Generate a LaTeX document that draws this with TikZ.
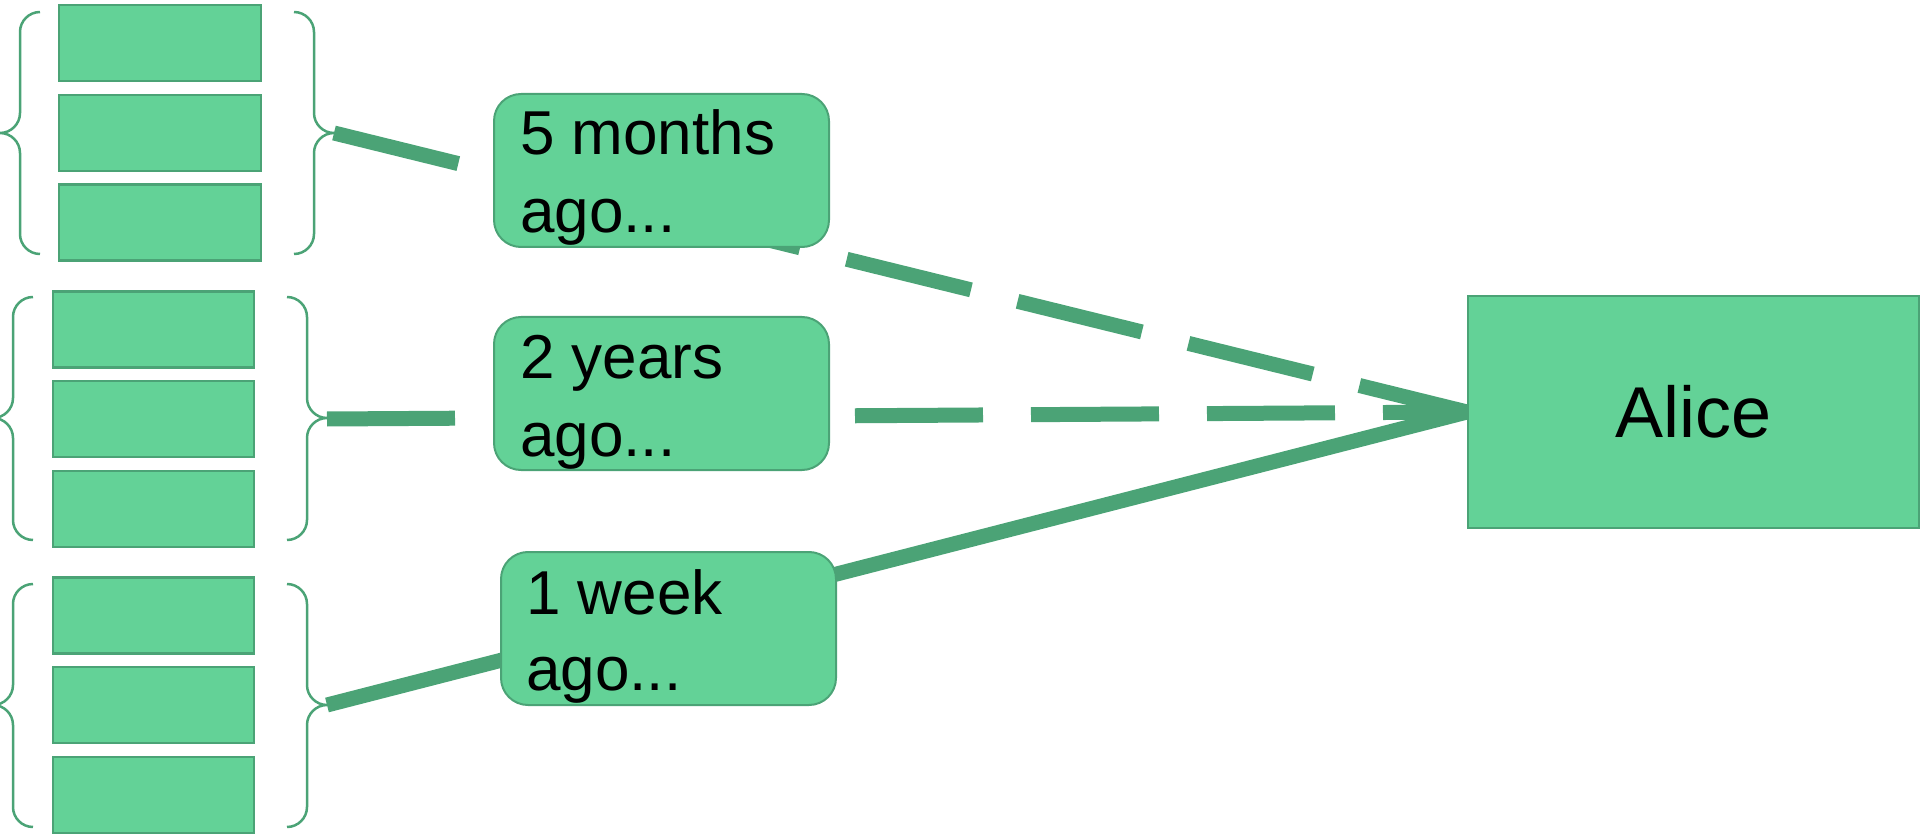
\documentclass[tikz,border=0pt]{standalone}
\usepackage{fontspec}
\setmainfont{Liberation Sans}
\usetikzlibrary{calc}
\definecolor{boxfill}{RGB}{99,210,151}
\definecolor{boxline}{RGB}{75,163,118}
\tikzset{
  smallbox/.style={draw=boxline, fill=boxfill, line width=2.5pt, minimum width=202pt, minimum height=76pt, inner sep=0pt},
  tbox/.style={draw=boxline, fill=boxfill, line width=2pt, rounded corners=27pt, minimum width=335pt, minimum height=153pt, inner sep=0pt},
  abox/.style={draw=boxline, fill=boxfill, line width=2pt, minimum width=451pt, minimum height=232pt, inner sep=0pt, font=\fontsize{72}{72}\selectfont},
  txt/.style={inner sep=0pt, anchor=base west, font=\fontsize{62}{62}\selectfont},
  bracestyle/.style={draw=boxline, line width=2.5pt},
  conn/.style={draw=boxline, line width=15pt, line cap=butt},
  dconn/.style={conn, dash pattern=on 128pt off 48pt}
}
\newcommand\mybraces[5]{% L R top mid bot
  \draw[bracestyle] (#1,#3) .. controls ({#1-11},#3) and ({#1-20},{#3+9}) .. ({#1-20},{#3+20})
    -- ({#1-20},{#4-20}) .. controls ({#1-20},{#4-9}) and ({#1-29},#4) .. ({#1-40},#4)
    .. controls ({#1-29},#4) and ({#1-20},{#4+9}) .. ({#1-20},{#4+20})
    -- ({#1-20},{#5-20}) .. controls ({#1-20},{#5-9}) and ({#1-11},#5) .. (#1,#5);
  \draw[bracestyle] (#2,#3) .. controls ({#2+11},#3) and ({#2+20},{#3+9}) .. ({#2+20},{#3+20})
    -- ({#2+20},{#4-20}) .. controls ({#2+20},{#4-9}) and ({#2+29},#4) .. ({#2+40},#4)
    .. controls ({#2+29},#4) and ({#2+20},{#4+9}) .. ({#2+20},{#4+20})
    -- ({#2+20},{#5-20}) .. controls ({#2+20},{#5-9}) and ({#2+11},#5) .. (#2,#5);
}
\begin{document}
\begin{tikzpicture}[x=1pt,y=-1pt]
\useasboundingbox (0,0) rectangle (1920,834);
% braces
\mybraces{40}{294}{12}{133}{254}
\mybraces{33}{287}{297}{418}{540}
\mybraces{33}{287}{584}{705}{827}
\coordinate (b1) at (334,133);
\coordinate (b2) at (327,419);
\coordinate (b3) at (327,705);
% small boxes
\node[smallbox] (g1a) at (160,43) {};
\node[smallbox] (g1b) at (160,133) {};
\node[smallbox] (g1c) at (160,222.5) {};
\node[smallbox, minimum width=201pt] (g2a) at (153.5,329.5) {};
\node[smallbox, minimum width=201pt] (g2b) at (153.5,419) {};
\node[smallbox, minimum width=201pt] (g2c) at (153.5,509) {};
\node[smallbox, minimum width=201pt] (g3a) at (153.5,615.5) {};
\node[smallbox, minimum width=201pt] (g3b) at (153.5,705) {};
\node[smallbox, minimum width=201pt] (g3c) at (153.5,795) {};
% Alice
\node[abox] (alice) at (1693.5,412) {Alice};
% connectors
\draw[dconn] (b1) -- (alice.west);
\draw[dconn] (b2) -- (alice.west);
\draw[conn] (b3) -- (alice.west);
% text boxes
\node[tbox] (t1) at (661.5,170.5) {};
\node[txt] (t1a) at (520,155) {5 months};
\node[txt] (t1b) at (520,233) {ago...};
\node[tbox] (t2) at (661.5,393.5) {};
\node[txt] (t2a) at (520,378) {2 years};
\node[txt] (t2b) at (520,456) {ago...};
\node[tbox] (t3) at (668.5,628.5) {};
\node[txt] (t3a) at (526,614) {1 week};
\node[txt] (t3b) at (526,690) {ago...};
\end{tikzpicture}
\end{document}
